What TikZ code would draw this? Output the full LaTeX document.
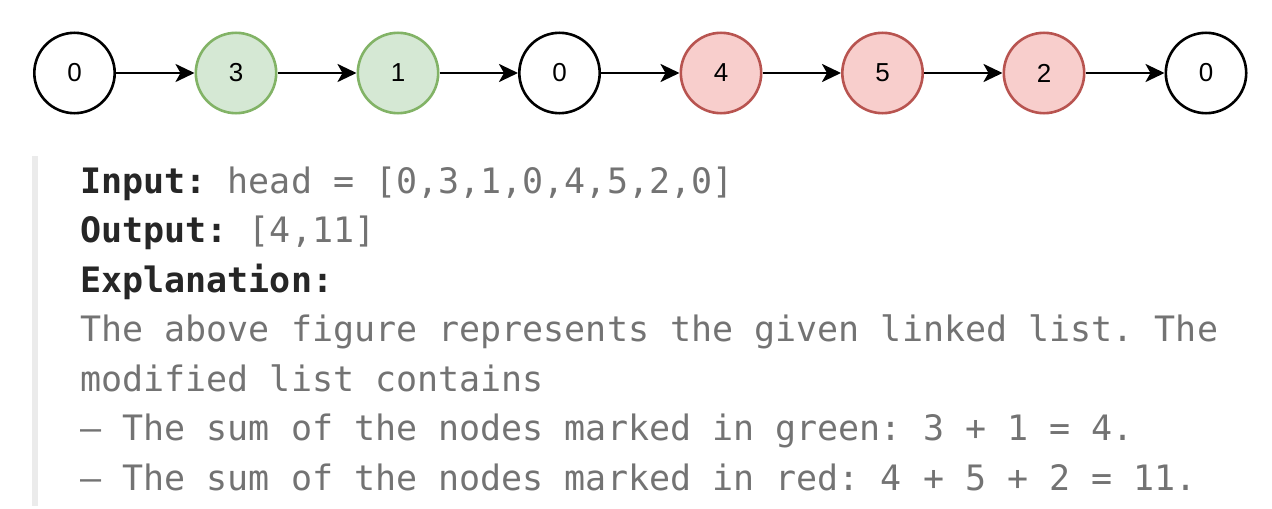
\documentclass[tikz,border=0pt]{standalone}
\usepackage{fontspec}
\setmainfont{Liberation Sans}
\newfontfamily\codefont{DejaVu Sans Mono}
\usetikzlibrary{arrows.meta}
\definecolor{greenfill}{HTML}{D5E8D4}
\definecolor{greenline}{HTML}{82B366}
\definecolor{redfill}{HTML}{F8CECC}
\definecolor{redline}{HTML}{B85450}
\definecolor{labeltext}{HTML}{262626}
\definecolor{valuetext}{HTML}{737373}
\definecolor{quotebar}{HTML}{EBEBEB}
\newcommand{\lbl}[1]{{\bfseries\color{labeltext}#1}}
\frenchspacing

\begin{document}
\begin{tikzpicture}
  [x=0.5pt,y=-0.5pt,every node/.style={circle,draw,line width=1.3pt,minimum size=40.2pt,inner sep=0pt,font=\fontsize{13}{15}\selectfont}]
  \tikzstyle{greennode} = [fill=greenfill,draw=greenline]
  \tikzstyle{rednode} = [fill=redfill,draw=redline]
  \tikzstyle{codeline} = [rectangle,draw=none,minimum size=0pt,anchor=base west,text=valuetext,font=\codefont\fontsize{17.5}{20}\selectfont]
  \useasboundingbox (0,0) rectangle (1272,508);

  \node (n1) at (74.5,73) {0};
  \node[greennode] (n2) at (236,73) {3};
  \node[greennode] (n3) at (398,73) {1};
  \node (n4) at (559.5,73) {0};
  \node[rednode] (n5) at (721,73) {4};
  \node[rednode] (n6) at (882.5,73) {5};
  \node[rednode] (n7) at (1044,73) {2};
  \node (n8) at (1206,73) {0};

  \foreach \from/\to in {n1/n2,n2/n3,n3/n4,n4/n5,n5/n6,n6/n7,n7/n8}
    \draw[line width=1.4pt,-{Stealth[length=9.5pt,width=9pt,inset=2.5pt]}] (\from) -- (\to);

  \fill[quotebar] (32,156) rectangle (38,506);
  \node[codeline] (l1) at (79,193) {\lbl{Input:} head = [0,3,1,0,4,5,2,0]};
  \node[codeline] (l2) at (79,242.5) {\lbl{Output:} [4,11]};
  \node[codeline] (l3) at (79,292) {\lbl{Explanation:}};
  \node[codeline] (l4) at (79,341.5) {The above figure represents the given linked list. The};
  \node[codeline] (l5) at (79,391) {modified list contains};
  \node[codeline] (l6) at (79,440.5) {– The sum of the nodes marked in green: 3 + 1 = 4.};
  \node[codeline] (l7) at (79,490) {– The sum of the nodes marked in red: 4 + 5 + 2 = 11.};

\end{tikzpicture}
\end{document}
